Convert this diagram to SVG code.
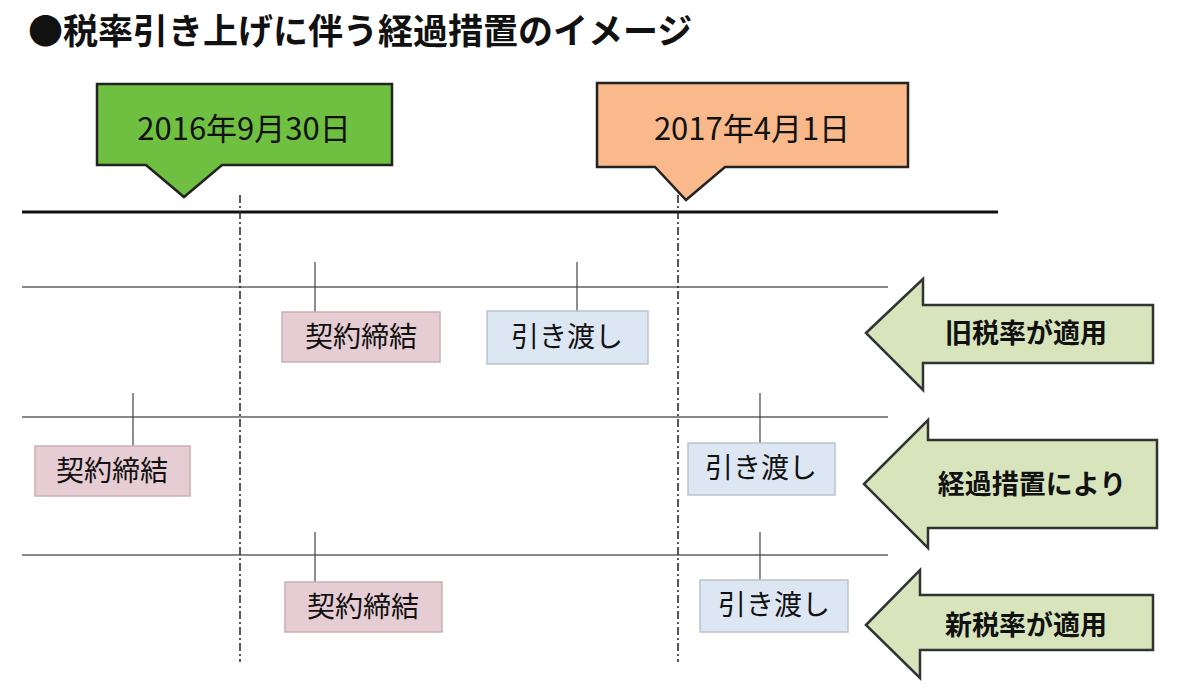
<svg xmlns="http://www.w3.org/2000/svg" width="1200" height="696" viewBox="0 0 1200 696">
<style>
text{font-family:"Noto Sans CJK JP","Liberation Sans",sans-serif;fill:#111}
.lbl{font-size:28px;text-anchor:middle}
.arr{fill:#d8e4bc;stroke:#333;stroke-width:2.5}
.arrt{font-size:27px;font-weight:bold;text-anchor:middle}
.pink{fill:#e6cdd3;stroke:#c8b0b6;stroke-width:1.5}
.blue{fill:#dde7f3;stroke:#b8c4d2;stroke-width:1.5}
.tick{stroke:#444;stroke-width:1.2}
.gray{stroke:#888;stroke-width:2}
.dash{stroke:#222;stroke-width:1.5;stroke-dasharray:8 3 2 3}
.date{font-size:31px;text-anchor:middle}
</style>
<rect width="1200" height="696" fill="#fff"/>
<text x="28" y="44" style="font-size:35px;font-weight:bold">●税率引き上げに伴う経過措置のイメージ</text>
<g id="connectors">
<line x1="22" y1="212" x2="998" y2="212" stroke="#111" stroke-width="3"/>
<line class="gray" x1="22" y1="287" x2="888" y2="287"/>
<line class="gray" x1="22" y1="417" x2="888" y2="417"/>
<line class="gray" x1="22" y1="555" x2="888" y2="555"/>
<line class="dash" x1="240" y1="195" x2="240" y2="662"/>
<line class="dash" x1="678" y1="195" x2="678" y2="662"/>
<line class="tick" x1="315" y1="262" x2="315" y2="312"/>
<line class="tick" x1="577" y1="262" x2="577" y2="311"/>
<line class="tick" x1="133" y1="393" x2="133" y2="446"/>
<line class="tick" x1="760" y1="393" x2="760" y2="443"/>
<line class="tick" x1="315" y1="532" x2="315" y2="582"/>
<line class="tick" x1="760" y1="532" x2="760" y2="580"/>
</g>
<g id="date1">
<path d="M97 84H392V165H222L184 197L146 165H97Z" fill="#6fc040" stroke="#222" stroke-width="2.5"/>
<text class="date" x="244" y="140">2016年9月30日</text>
</g>
<g id="date2">
<path d="M597 83H908V167H725L686 200L655 167H597Z" fill="#f9b98a" stroke="#222" stroke-width="2.5"/>
<text class="date" x="752" y="140">2017年4月1日</text>
</g>
<g id="r1c"><rect class="pink" x="282" y="312" width="158" height="50"/><text class="lbl" x="361" y="347">契約締結</text></g>
<g id="r1d"><rect class="blue" x="487" y="311" width="161" height="53"/><text class="lbl" x="567" y="347">引き渡し</text></g>
<g id="r2c"><rect class="pink" x="35" y="446" width="155" height="50"/><text class="lbl" x="112" y="481">契約締結</text></g>
<g id="r2d"><rect class="blue" x="688" y="443" width="147" height="52"/><text class="lbl" x="761" y="478">引き渡し</text></g>
<g id="r3c"><rect class="pink" x="285" y="582" width="157" height="50"/><text class="lbl" x="363" y="617">契約締結</text></g>
<g id="r3d"><rect class="blue" x="700" y="580" width="148" height="52"/><text class="lbl" x="774" y="615">引き渡し</text></g>
<g id="a1"><path class="arr" d="M866 333L923 279V305H1153V363H923V390Z"/><text class="arrt" x="1026" y="343">旧税率が適用</text></g>
<g id="a2"><path class="arr" d="M864 484L928 420V440H1157V528H928V548Z"/><text class="arrt" x="1032" y="494">経過措置により</text></g>
<g id="a3"><path class="arr" d="M866 625L920 570V595H1153V650H920V678Z"/><text class="arrt" x="1026" y="635">新税率が適用</text></g>
</svg>
